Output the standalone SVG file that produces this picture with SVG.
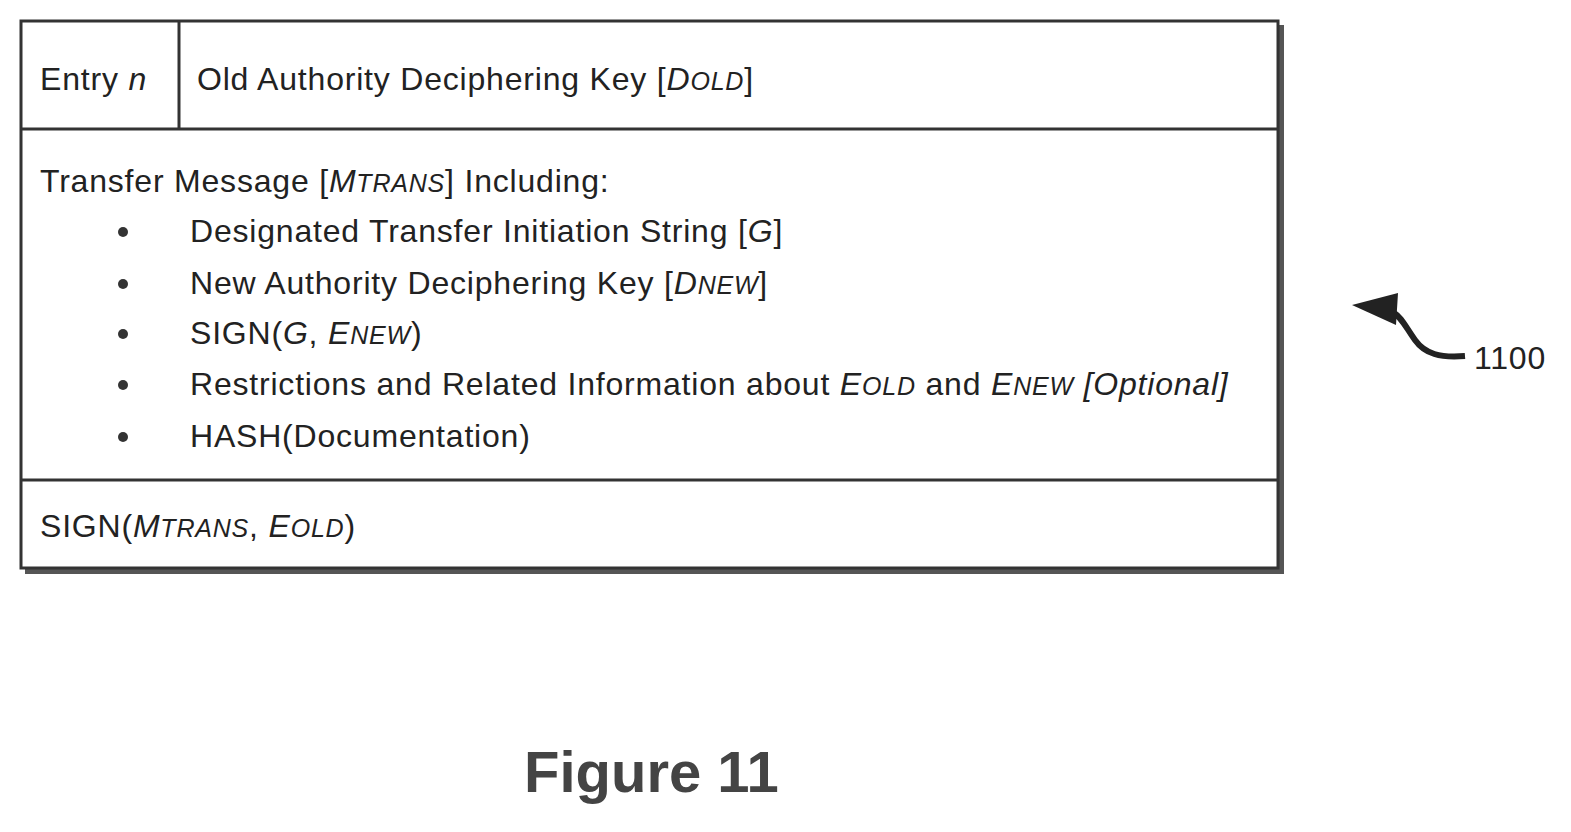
<svg xmlns="http://www.w3.org/2000/svg" width="1571" height="832" viewBox="0 0 1571 832">
<style>
text{font-family:"Liberation Sans",Arial,sans-serif;font-size:32px;letter-spacing:0.8px;fill:#222}
.s{font-size:25px}
.i{font-style:italic}
.ln{stroke:#333;stroke-width:3}
</style>
<rect width="1571" height="832" fill="#fff"/>
<g id="table">
<rect x="25" y="25" width="1259" height="549" fill="#555"/>
<rect x="21" y="21" width="1257" height="547" fill="#fff" class="ln"/>
<line class="ln" x1="21" y1="129" x2="1278" y2="129"/>
<line class="ln" x1="21" y1="480" x2="1278" y2="480"/>
<line class="ln" x1="179" y1="21" x2="179" y2="129"/>
</g>
<g id="entry"><text x="40" y="90">Entry <tspan class="i">n</tspan></text></g>
<g id="oldkey"><text x="197" y="90">Old Authority Deciphering Key [<tspan class="i">D</tspan><tspan class="i s">OLD</tspan>]</text></g>
<g id="transfer">
<text x="40" y="192">Transfer Message [<tspan class="i">M</tspan><tspan class="i s">TRANS</tspan>] Including:</text>
<g fill="#333"><circle cx="123" cy="232" r="5"/><circle cx="123" cy="284" r="5"/><circle cx="123" cy="334" r="5"/><circle cx="123" cy="385" r="5"/><circle cx="123" cy="437" r="5"/></g>
<text x="190" y="242">Designated Transfer Initiation String [<tspan class="i">G</tspan>]</text>
<text x="190" y="294">New Authority Deciphering Key [<tspan class="i">D</tspan><tspan class="i s">NEW</tspan>]</text>
<text x="190" y="344">SIGN(<tspan class="i">G</tspan>, <tspan class="i">E</tspan><tspan class="i s">NEW</tspan>)</text>
<text x="190" y="395">Restrictions and Related Information about <tspan class="i">E</tspan><tspan class="i s">OLD</tspan> and <tspan class="i">E</tspan><tspan class="i s">NEW</tspan>  <tspan class="i">[Optional]</tspan></text>
<text x="190" y="447">HASH(Documentation)</text>
</g>
<g id="sign"><text x="40" y="537">SIGN(<tspan class="i">M</tspan><tspan class="i s">TRANS</tspan>, <tspan class="i">E</tspan><tspan class="i s">OLD</tspan>)</text></g>
<g id="connectors">
<path d="M1465,356 C1440,358 1425,354 1415,340 C1405,326 1402,318 1393,312" stroke="#222" stroke-width="6" fill="none"/>
<polygon points="1352,305 1398,293 1396,325" fill="#222"/>
</g>
<g id="ref"><text x="1474" y="369">1100</text></g>
<g id="caption"><text x="524" y="792" style="font-size:58px;font-weight:bold;fill:#444;letter-spacing:0">Figure 11</text></g>
</svg>
